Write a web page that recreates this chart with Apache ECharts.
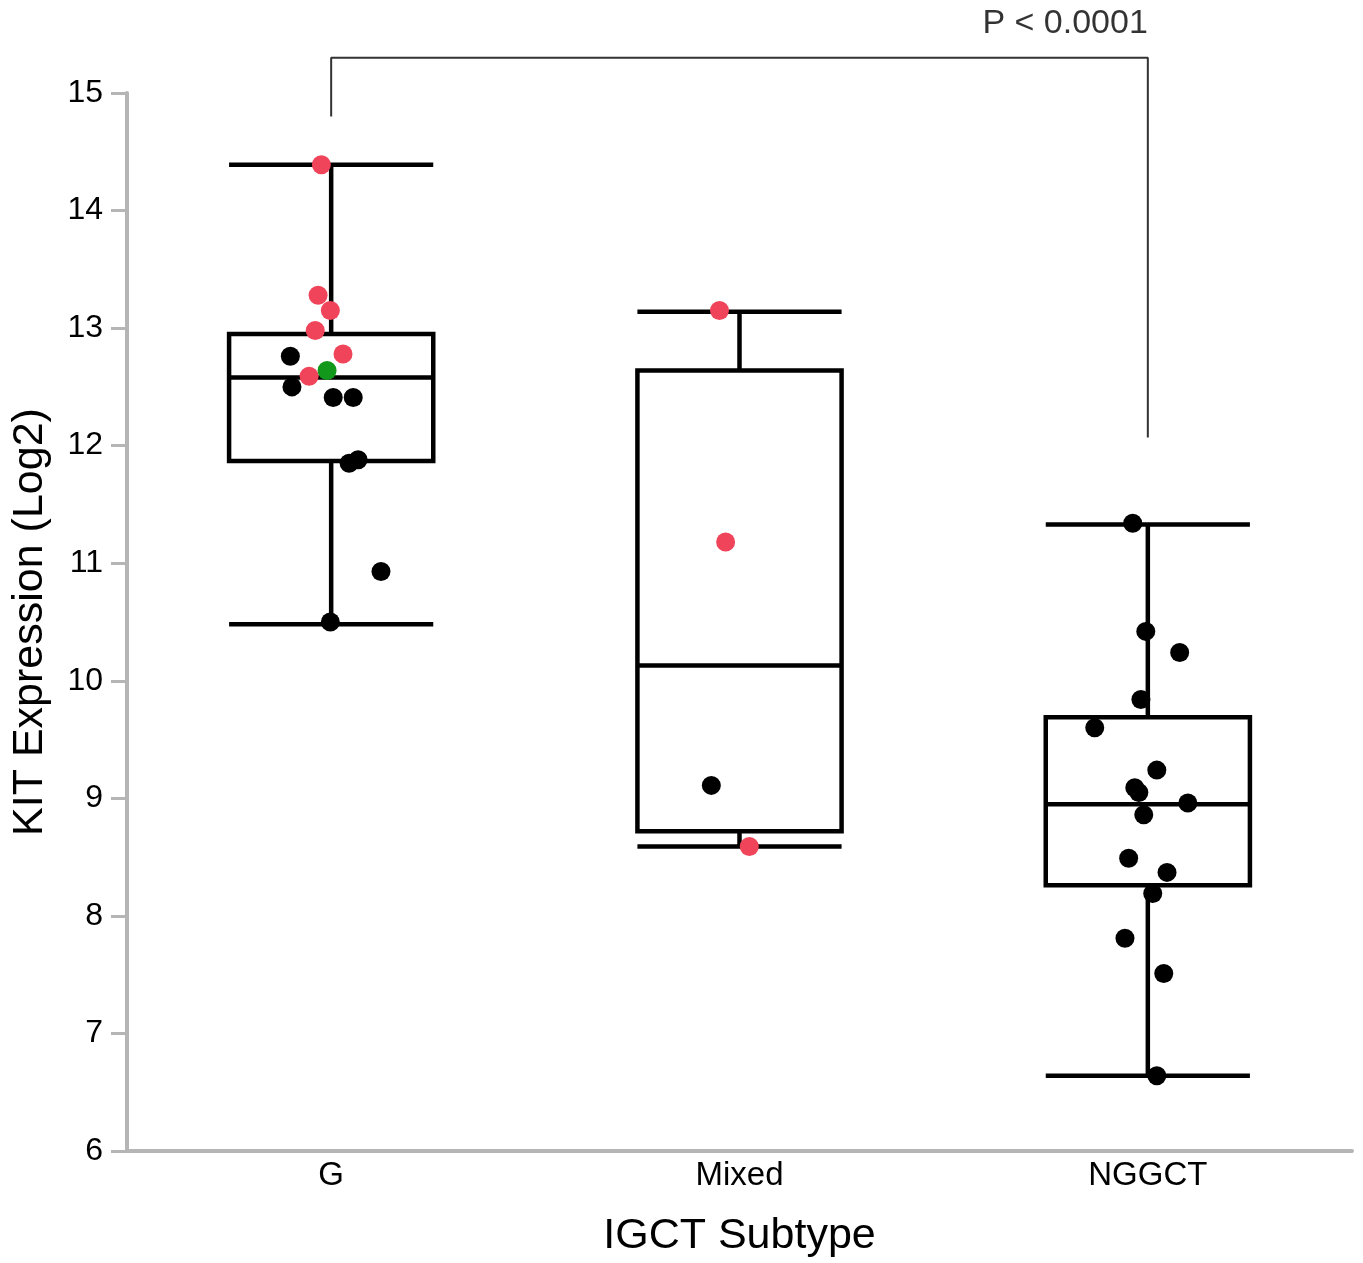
<!DOCTYPE html>
<html>
<head>
<meta charset="utf-8">
<script src="https://cdn.jsdelivr.net/npm/echarts@6/dist/echarts.min.js"></script>
<style>
html,body{margin:0;padding:0;background:#fff;}
#chart{width:1363px;height:1263px;}
</style>
</head>
<body>
<div id="chart"></div>
<script>
// ---- data ----
var categories = ['G', 'Mixed', 'NGGCT'];
var yTicks = [6, 7, 8, 9, 10, 11, 12, 13, 14, 15];
// box stats: [min, Q1, median, Q3, max]
var boxG = [10.48, 11.87, 12.58, 12.95, 14.39];
var boxMixed = [8.59, 8.72, 10.13, 12.64, 13.14];
var boxNGGCT = [6.64, 8.26, 8.95, 9.69, 11.33];

// individual samples: category index, jitter (category units), value
var blackCat    = [0, 0, 0, 0, 0, 0, 0, 0, 1, 2, 2, 2, 2, 2, 2, 2, 2, 2, 2, 2, 2, 2, 2, 2, 2];
var blackJitter = [-0.100, -0.096, 0.005, 0.054, 0.044, 0.066, 0.122, -0.002, -0.069,
                   -0.037, -0.005, 0.078, -0.017, -0.130, 0.022, -0.032, -0.022, 0.098, -0.010,
                   -0.047, 0.047, 0.012, -0.056, 0.039, 0.022];
var blackValue  = [12.76, 12.50, 12.41, 12.41, 11.85, 11.88, 10.93, 10.50, 9.11,
                   11.34, 10.42, 10.24, 9.84, 9.60, 9.24, 9.09, 9.05, 8.96, 8.86,
                   8.49, 8.37, 8.19, 7.81, 7.51, 6.64];

var redCat    = [0, 0, 0, 0, 0, 0, 1, 1, 1];
var redJitter = [-0.024, -0.032, -0.002, -0.039, 0.029, -0.054, -0.049, -0.034, 0.024];
var redValue  = [14.39, 13.28, 13.15, 12.98, 12.78, 12.59, 13.15, 11.18, 8.59];

var greenCat    = [0];
var greenJitter = [-0.010];
var greenValue  = [12.64];

// significance bracket
var bracketX = [0, 0, 2, 2];
var bracketY = [14.80, 15.30, 15.30, 12.07];
var pText = 'P < 0.0001';

// ---- build ----
function pts(cat, jit, val) {
  var out = [];
  for (var i = 0; i < cat.length; i++) out.push([cat[i] + jit[i], val[i]]);
  return out;
}
var bracket = [];
for (var i = 0; i < bracketX.length; i++) bracket.push([bracketX[i], bracketY[i]]);

var FONT = 'Liberation Sans';
var AXIS_GREY = '#b5b5b5';

var chart = echarts.init(document.getElementById('chart'), null, {renderer: 'canvas'});
chart.setOption({
  backgroundColor: '#fff',
  animation: false,
  textStyle: {fontFamily: FONT, color: '#000'},
  grid: {left: 127, right: 11, top: 93, bottom: 112},
  xAxis: [{
    type: 'category',
    data: categories,
    boundaryGap: true,
    name: 'IGCT Subtype',
    nameLocation: 'middle',
    nameGap: 64,
    nameTextStyle: {fontFamily: FONT, fontSize: 43, color: '#000'},
    axisLine: {onZero: false, lineStyle: {color: AXIS_GREY, width: 4}},
    axisTick: {show: false},
    axisLabel: {fontFamily: FONT, fontSize: 33, color: '#000', margin: 8},
    splitLine: {show: false}
  }, {
    type: 'value',
    min: -0.5,
    max: 2.5,
    show: false
  }],
  yAxis: {
    type: 'value',
    min: 6,
    max: 15,
    interval: 1,
    name: 'KIT Expression (Log2)',
    nameLocation: 'middle',
    nameGap: 75,
    nameTextStyle: {fontFamily: FONT, fontSize: 43, color: '#000'},
    axisLine: {show: true, onZero: false, lineStyle: {color: AXIS_GREY, width: 4}},
    axisTick: {show: true, length: 16, lineStyle: {color: AXIS_GREY, width: 3}},
    axisLabel: {fontFamily: FONT, fontSize: 32, color: '#000', margin: 24,
      formatter: function (v) { return yTicks.indexOf(v) >= 0 ? String(v) : ''; }},
    splitLine: {show: false}
  },
  series: [{
    type: 'boxplot',
    xAxisIndex: 0,
    data: [boxG, boxMixed, boxNGGCT],
    boxWidth: ['50%', '50%'],
    itemStyle: {color: '#fff', borderColor: '#000', borderWidth: 4.5},
    emphasis: {disabled: true},
    z: 2
  }, {
    type: 'scatter',
    xAxisIndex: 1,
    data: pts(blackCat, blackJitter, blackValue),
    symbolSize: 19,
    itemStyle: {color: '#000', opacity: 1},
    z: 3
  }, {
    type: 'scatter',
    xAxisIndex: 1,
    data: pts(redCat, redJitter, redValue),
    symbolSize: 19,
    itemStyle: {color: '#ef4459', opacity: 1},
    z: 4
  }, {
    type: 'scatter',
    xAxisIndex: 1,
    data: pts(greenCat, greenJitter, greenValue),
    symbolSize: 19,
    itemStyle: {color: '#12991c', opacity: 1},
    z: 5
  }, {
    type: 'line',
    xAxisIndex: 1,
    data: bracket,
    clip: false,
    symbol: 'none',
    lineStyle: {color: '#333', width: 2},
    z: 1
  }, {
    type: 'scatter',
    xAxisIndex: 1,
    data: [[bracketX[2], bracketY[2]]],
    symbolSize: 0,
    clip: false,
    label: {
      show: true,
      position: 'top',
      distance: 17,
      align: 'right',
      formatter: pText,
      fontFamily: FONT,
      fontSize: 34,
      color: '#000'
    },
    z: 6
  }]
});
</script>
</body>
</html>
